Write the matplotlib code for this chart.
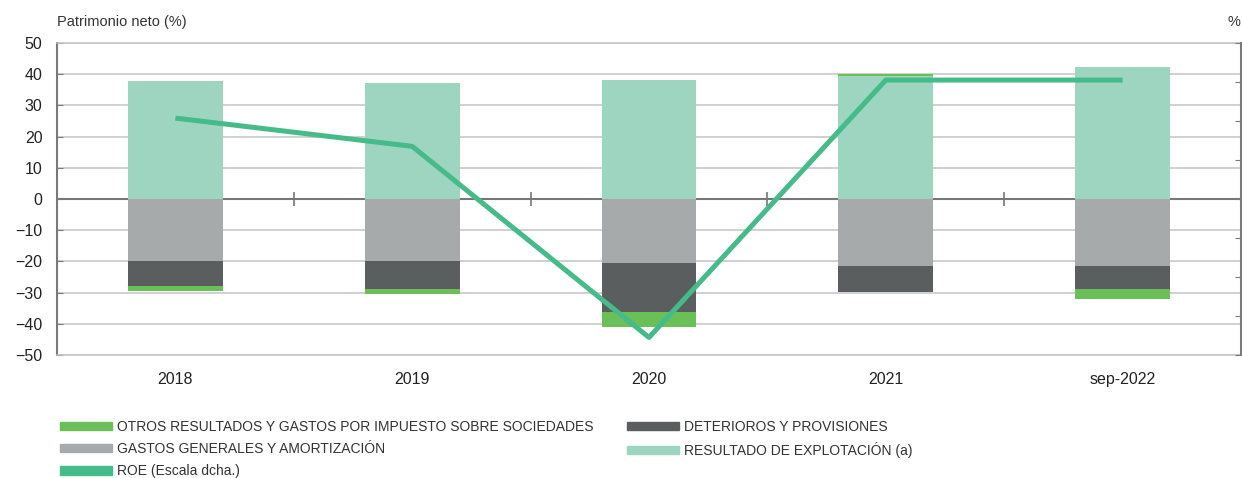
import numpy as np
import matplotlib
matplotlib.use('Agg')
import matplotlib.pyplot as plt
from matplotlib.patches import Patch

# data
categories = ['2018', '2019', '2020', '2021', 'sep-2022']
explotacion = [37.8, 37.2, 38.1, 39.4, 42.2]
otros = [-1.6, -1.6, -4.9, 0.6, -3.2]
gastos_generales = [-20.0, -20.0, -20.4, -21.5, -21.5]
deterioros = [-7.9, -8.9, -15.8, -8.2, -7.3]
roe = [4.15, 2.7, -7.1, 6.1, 6.1]

C_OTROS = '#6abf59'
C_DET = '#5a5e5e'
C_GAST = '#a6aaab'
C_EXPL = '#9dd5c0'
C_ROE = '#45bb8a'

plt.rcParams['font.family'] = ['Liberation Sans', 'DejaVu Sans']

fig = plt.figure(figsize=(12.42, 4.78), dpi=100)
ax = fig.add_axes([57 / 1242, 1 - 355 / 478, (1241 - 57) / 1242, 312 / 478])

x = np.arange(len(categories))
w = 0.4

# positive stack: explotacion, then positive "otros" on top
ax.bar(x, explotacion, w, color=C_EXPL, zorder=3)
pos_otros = [v if v > 0 else 0 for v in otros]
ax.bar(x, pos_otros, w, bottom=explotacion, color=C_OTROS, zorder=3)

# negative stack: gastos, deterioros, negative otros
ax.bar(x, gastos_generales, w, color=C_GAST, zorder=3)
ax.bar(x, deterioros, w, bottom=gastos_generales, color=C_DET, zorder=3)
neg_bottom = [g + d for g, d in zip(gastos_generales, deterioros)]
neg_otros = [v if v < 0 else 0 for v in otros]
ax.bar(x, neg_otros, w, bottom=neg_bottom, color=C_OTROS, zorder=3)

ax.set_xlim(-0.5, len(categories) - 0.5)
ax.set_ylim(-50, 50)
ax.set_yticks(np.arange(-50, 51, 10))
ax.set_xticks(x)
ax.set_xticklabels(categories, fontsize=11.5, color='#222222')
ax.tick_params(axis='x', length=0, pad=12)
ax.tick_params(axis='y', direction='in', length=4, color='#7a7a7a',
               labelsize=11.5, labelcolor='#222222', pad=10.5)
ax.grid(axis='y', color='#c4c4c4', linewidth=1.1, zorder=0)
ax.axhline(0, color='#777777', linewidth=1.5, zorder=2)

# category separators on the zero line
bounds = x[:-1] + 0.5
ax.plot(bounds, np.zeros(len(bounds)), linestyle='none', marker='|',
        markersize=10, markeredgewidth=1.2, color='#777777', zorder=2)

for s in ['top', 'bottom']:
    ax.spines[s].set_color('#c4c4c4')
    ax.spines[s].set_linewidth(1.1)
ax.spines['left'].set_color('#7a7a7a')
ax.spines['left'].set_linewidth(1.5)
ax.spines['right'].set_visible(False)

# right axis for ROE
ax2 = ax.twinx()
ax2.set_ylim(-8, 8)
ax2.set_yticks(np.arange(-8, 9, 2))
ax2.set_yticklabels([])
ax2.tick_params(axis='y', direction='in', length=4, color='#7a7a7a')
ax2.plot(x, roe, color=C_ROE, linewidth=3.6, solid_capstyle='butt', zorder=5)
for s in ['top', 'bottom', 'left']:
    ax2.spines[s].set_visible(False)
ax2.spines['right'].set_color('#7a7a7a')
ax2.spines['right'].set_linewidth(1.5)

fig.text(57 / 1242, 1 - 22 / 478, 'Patrimonio neto (%)', fontsize=10.5,
         color='#333333', va='center', ha='left')
fig.text(1240 / 1242, 1 - 22 / 478, '%', fontsize=10.5, color='#333333',
         va='center', ha='right')

# legend, two blocks
leg_font = {'family': ['Liberation Sans Narrow', 'Liberation Sans', 'DejaVu Sans'], 'size': 10}
left_items = [Patch(color=C_OTROS), Patch(color=C_GAST), Patch(color=C_ROE)]
left_labels = ['OTROS RESULTADOS Y GASTOS POR IMPUESTO SOBRE SOCIEDADES',
               'GASTOS GENERALES Y AMORTIZACIÓN',
               'ROE (Escala dcha.)']
right_items = [Patch(color=C_DET), Patch(color=C_EXPL)]
right_labels = ['DETERIOROS Y PROVISIONES', 'RESULTADO DE EXPLOTACIÓN (a)']

for handles, labels, x0 in [(left_items, left_labels, 60), (right_items, right_labels, 627)]:
    leg = fig.legend(handles, labels, loc='upper left',
                     bbox_to_anchor=(x0 / 1242, 1 - 420 / 478),
                     frameon=False, prop=leg_font, handlelength=3.75,
                     handleheight=0.58, handletextpad=0.36, labelspacing=0.58,
                     borderaxespad=0, borderpad=0)
    for t in leg.get_texts():
        t.set_color('#333333')

fig.savefig('out.png', dpi=100)
